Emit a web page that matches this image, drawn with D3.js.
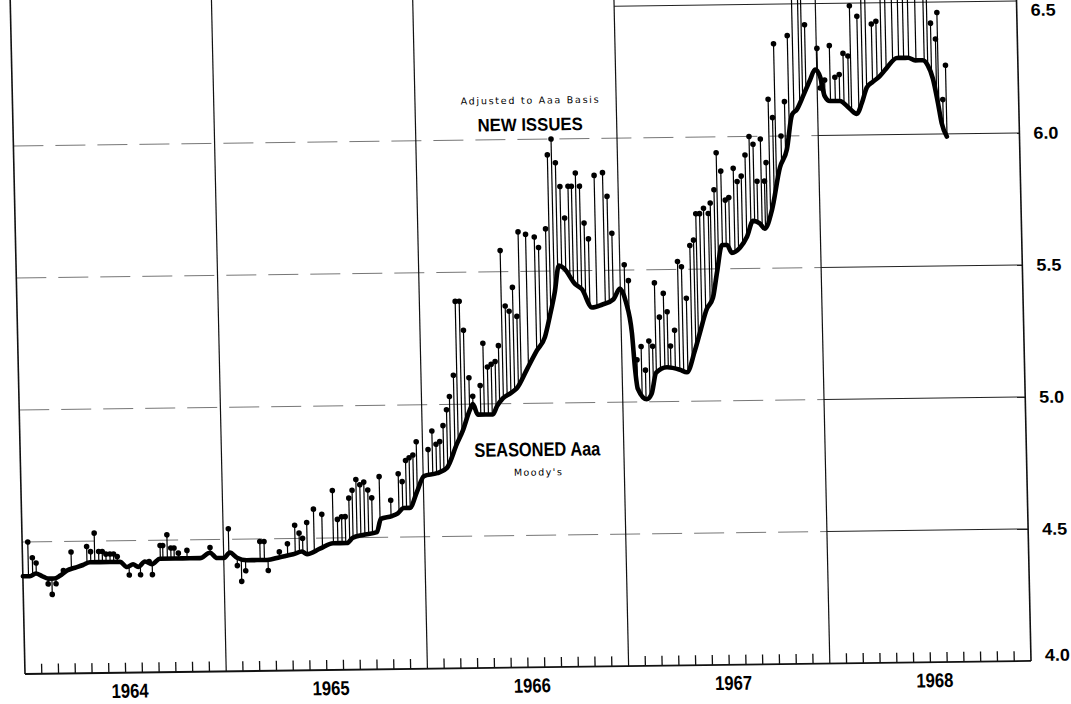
<!DOCTYPE html>
<html>
<head>
<meta charset="utf-8">
<script src="https://cdn.jsdelivr.net/npm/d3@7"></script>
<style>
  body { margin: 0; background: #fff; }
  svg { display: block; }
  .year-label { font-family: "Liberation Sans", Arial, sans-serif; font-weight: bold; font-size: 20px; }
  .value-label { font-family: "Liberation Sans", Arial, sans-serif; font-weight: bold; font-size: 17px; }
  .title { font-family: "Liberation Sans", Arial, sans-serif; font-weight: bold; }
  .note { font-family: "DejaVu Sans", sans-serif; font-size: 9.5px; }
</style>
</head>
<body>
<div id="chart"></div>
<script>
// Years on the time axis and the yield ticks on the right
const years = [1964, 1965, 1966, 1967, 1968];
const yieldTicks = [4.0, 4.5, 5.0, 5.5, 6.0, 6.5];
const gridLevels = [4.5, 5.0, 5.5, 6.0];

// Seasoned Aaa (Moody's), weekly-ish readings [decimal year, yield %]
const seasoned = [
  [1964.000, 4.37], [1964.035, 4.37], [1964.065, 4.38], [1964.095, 4.37], [1964.125, 4.36],
  [1964.155, 4.36], [1964.184, 4.37], [1964.220, 4.39], [1964.260, 4.40], [1964.300, 4.41],
  [1964.335, 4.42], [1964.434, 4.42], [1964.484, 4.42], [1964.519, 4.40], [1964.549, 4.41],
  [1964.574, 4.40], [1964.608, 4.42], [1964.643, 4.41], [1964.683, 4.43], [1964.758, 4.43],
  [1964.832, 4.43], [1964.882, 4.43], [1964.932, 4.45], [1964.967, 4.43], [1965.002, 4.43],
  [1965.031, 4.45], [1965.066, 4.43], [1965.115, 4.42], [1965.165, 4.42], [1965.215, 4.42],
  [1965.279, 4.43], [1965.345, 4.44], [1965.390, 4.45], [1965.414, 4.44], [1965.479, 4.46],
  [1965.545, 4.48], [1965.614, 4.48], [1965.644, 4.50], [1965.694, 4.51], [1965.764, 4.52],
  [1965.785, 4.57], [1965.840, 4.58], [1965.870, 4.59], [1965.900, 4.61], [1965.930, 4.61],
  [1965.967, 4.67], [1966.004, 4.73], [1966.069, 4.74], [1966.119, 4.76], [1966.171, 4.85],
  [1966.202, 4.90], [1966.240, 4.98], [1966.255, 5.00], [1966.278, 4.96], [1966.318, 4.96],
  [1966.353, 4.96], [1966.374, 4.99], [1966.404, 5.02], [1966.444, 5.04], [1966.477, 5.06],
  [1966.528, 5.13], [1966.579, 5.20], [1966.620, 5.25], [1966.647, 5.33], [1966.674, 5.42],
  [1966.697, 5.52], [1966.722, 5.51], [1966.775, 5.45], [1966.809, 5.43], [1966.857, 5.36],
  [1966.907, 5.37], [1966.965, 5.39], [1966.998, 5.43], [1967.026, 5.38], [1967.053, 5.26],
  [1967.064, 5.13], [1967.076, 5.05], [1967.119, 5.01], [1967.144, 5.03], [1967.169, 5.11],
  [1967.223, 5.13], [1967.287, 5.12], [1967.322, 5.11], [1967.363, 5.19], [1967.391, 5.26],
  [1967.428, 5.35], [1967.459, 5.39], [1967.483, 5.49], [1967.510, 5.59], [1967.535, 5.59],
  [1967.558, 5.56], [1967.600, 5.58], [1967.635, 5.62], [1967.667, 5.68], [1967.700, 5.67],
  [1967.725, 5.65], [1967.762, 5.72], [1967.806, 5.88], [1967.843, 5.95], [1967.872, 6.08],
  [1967.897, 6.10], [1967.929, 6.15], [1967.965, 6.21], [1967.992, 6.25], [1968.017, 6.22],
  [1968.036, 6.15], [1968.062, 6.13], [1968.111, 6.13], [1968.160, 6.10], [1968.194, 6.08],
  [1968.220, 6.12], [1968.247, 6.18], [1968.276, 6.20], [1968.310, 6.22], [1968.345, 6.25],
  [1968.400, 6.29], [1968.425, 6.29], [1968.455, 6.29], [1968.490, 6.28], [1968.528, 6.28],
  [1968.552, 6.26], [1968.576, 6.21], [1968.598, 6.12], [1968.615, 6.04], [1968.639, 5.99]
];

// New issues adjusted to Aaa basis [decimal year, yield %]
const newIssues = [
  [1964.028, 4.50], [1964.049, 4.44], [1964.067, 4.42], [1964.125, 4.34], [1964.144, 4.30],
  [1964.164, 4.34], [1964.202, 4.39], [1964.242, 4.46], [1964.320, 4.48], [1964.339, 4.46],
  [1964.359, 4.53], [1964.379, 4.46], [1964.397, 4.46], [1964.415, 4.45], [1964.435, 4.45],
  [1964.453, 4.45], [1964.471, 4.44], [1964.529, 4.37], [1964.585, 4.37], [1964.629, 4.42],
  [1964.644, 4.37], [1964.685, 4.48], [1964.698, 4.48], [1964.720, 4.52], [1964.738, 4.47],
  [1964.754, 4.47], [1964.775, 4.45], [1964.818, 4.46], [1964.933, 4.47], [1965.026, 4.54],
  [1965.067, 4.40], [1965.087, 4.34], [1965.108, 4.38], [1965.181, 4.49], [1965.202, 4.49],
  [1965.220, 4.38], [1965.277, 4.45], [1965.318, 4.48], [1965.356, 4.55], [1965.377, 4.52],
  [1965.394, 4.50], [1965.416, 4.56], [1965.451, 4.61], [1965.492, 4.59], [1965.547, 4.68],
  [1965.569, 4.57], [1965.590, 4.58], [1965.608, 4.58], [1965.628, 4.65], [1965.645, 4.68],
  [1965.665, 4.72], [1965.684, 4.70], [1965.704, 4.71], [1965.723, 4.68], [1965.742, 4.65],
  [1965.781, 4.73], [1965.836, 4.64], [1965.876, 4.74], [1965.895, 4.71], [1965.914, 4.79],
  [1965.932, 4.80], [1965.951, 4.81], [1965.969, 4.86], [1966.027, 4.83], [1966.048, 4.90],
  [1966.067, 4.85], [1966.086, 4.86], [1966.104, 4.92], [1966.123, 4.98], [1966.139, 5.03],
  [1966.161, 5.11], [1966.178, 5.39], [1966.198, 5.39], [1966.216, 5.28], [1966.238, 5.10],
  [1966.255, 5.03], [1966.293, 5.07], [1966.311, 5.23], [1966.331, 5.14], [1966.350, 5.15],
  [1966.370, 5.16], [1966.388, 5.22], [1966.407, 5.58], [1966.426, 5.37], [1966.445, 5.35],
  [1966.464, 5.44], [1966.483, 5.33], [1966.498, 5.65], [1966.535, 5.64], [1966.578, 5.63],
  [1966.598, 5.59], [1966.635, 5.66], [1966.652, 5.94], [1966.672, 6.00], [1966.691, 5.91],
  [1966.711, 5.82], [1966.731, 5.70], [1966.751, 5.82], [1966.768, 5.82], [1966.789, 5.87],
  [1966.808, 5.82], [1966.827, 5.68], [1966.847, 5.62], [1966.882, 5.86], [1966.924, 5.87],
  [1966.944, 5.78], [1966.964, 5.64], [1967.022, 5.52], [1967.041, 5.46], [1967.075, 5.16],
  [1967.097, 5.21], [1967.116, 5.12], [1967.136, 5.23], [1967.154, 5.21], [1967.170, 5.45],
  [1967.191, 5.32], [1967.213, 5.41], [1967.230, 5.34], [1967.243, 5.21], [1967.265, 5.27],
  [1967.287, 5.53], [1967.306, 5.51], [1967.327, 5.39], [1967.350, 5.59], [1967.369, 5.61],
  [1967.383, 5.71], [1967.402, 5.71], [1967.422, 5.73], [1967.445, 5.71], [1967.456, 5.75],
  [1967.476, 5.80], [1967.491, 5.94], [1967.512, 5.87], [1967.531, 5.76], [1967.549, 5.77],
  [1967.574, 5.88], [1967.592, 5.83], [1967.613, 5.85], [1967.634, 5.93], [1967.656, 6.00],
  [1967.675, 5.97], [1967.691, 5.83], [1967.712, 5.99], [1967.728, 5.83], [1967.738, 5.90],
  [1967.755, 6.14], [1967.775, 6.07], [1967.788, 6.35], [1967.815, 6.00], [1967.836, 6.13],
  [1967.857, 6.38], [1967.882, 6.62], [1967.912, 6.66], [1967.927, 6.60], [1967.944, 6.42],
  [1968.003, 6.33], [1968.015, 6.18], [1968.038, 6.21], [1968.065, 6.34], [1968.089, 6.22],
  [1968.111, 6.23], [1968.132, 6.31], [1968.156, 6.30], [1968.169, 6.49], [1968.205, 6.45],
  [1968.226, 6.60], [1968.246, 6.62], [1968.276, 6.42], [1968.299, 6.43], [1968.322, 6.65],
  [1968.345, 6.60], [1968.378, 6.68], [1968.408, 6.64], [1968.433, 6.70], [1968.458, 6.62],
  [1968.494, 6.66], [1968.535, 6.60], [1968.552, 6.63], [1968.570, 6.42], [1968.593, 6.36],
  [1968.603, 6.46], [1968.623, 6.13], [1968.640, 6.26]
];

const width = 1071;
const height = 704;

const svg = d3.select("#chart").append("svg")
  .attr("width", width)
  .attr("height", height);

// The original sheet is scanned slightly askew, so the plot sits in a skewed frame
const ox = 25, oy = 673;
const chart = svg.append("g")
  .attr("transform", `translate(${ox},${oy}) matrix(1,-0.013,0.022,1,0,0) translate(${-ox},${-oy})`);

const x = d3.scaleLinear().domain([1964, 1969]).range([25, 1031]);
const y = d3.scaleLinear().domain([4.0, 6.5]).range([674, 14]);

// Seasoned value at any date, used as the foot of each new-issue stem
const bisect = d3.bisector((d) => d[0]).left;
function seasonedAt(t) {
  let i = Math.max(1, Math.min(seasoned.length - 1, bisect(seasoned, t)));
  const a = seasoned[i - 1], b = seasoned[i];
  const k = Math.max(0, Math.min(1, (t - a[0]) / (b[0] - a[0])));
  return a[1] + (b[1] - a[1]) * k;
}

// Horizontal grid: broken rule through 1967, solid in 1968
gridLevels.forEach((v) => {
  chart.append("line")
    .attr("x1", x(1964)).attr("x2", x(1968))
    .attr("y1", y(v)).attr("y2", y(v))
    .attr("stroke", "#555")
    .attr("stroke-width", 0.8)
    .attr("stroke-dasharray", "30,12");
  chart.append("line")
    .attr("x1", x(1968)).attr("x2", x(1969))
    .attr("y1", y(v)).attr("y2", y(v))
    .attr("stroke", "#222")
    .attr("stroke-width", 1);
});

// top rule at 6.5 only shows over the last two years
chart.append("line")
  .attr("x1", x(1967)).attr("x2", x(1969))
  .attr("y1", y(6.5)).attr("y2", y(6.5))
  .attr("stroke", "#222")
  .attr("stroke-width", 1);

// Year boundaries and frame sides
d3.range(1964, 1970).forEach((yr) => {
  chart.append("line")
    .attr("x1", x(yr)).attr("x2", x(yr))
    .attr("y1", y(4.0)).attr("y2", -40)
    .attr("stroke", "#111")
    .attr("stroke-width", yr === 1964 || yr === 1969 ? 1.6 : 1.2);
});

// Baseline with monthly ticks
chart.append("line")
  .attr("x1", x(1964)).attr("x2", x(1969))
  .attr("y1", y(4.0)).attr("y2", y(4.0))
  .attr("stroke", "#111")
  .attr("stroke-width", 1.8);

const months = [];
years.forEach((yr) => d3.range(1, 12).forEach((m) => months.push(yr + m / 12)));
chart.selectAll(".month-tick")
  .data(months)
  .join("line")
  .attr("class", "month-tick")
  .attr("x1", (d) => x(d)).attr("x2", (d) => x(d))
  .attr("y1", y(4.0)).attr("y2", y(4.0) - 10)
  .attr("stroke", "#111")
  .attr("stroke-width", 1.3);

// Year labels under the axis (condensed bold)
chart.selectAll(".year-label")
  .data(years)
  .join("text")
  .attr("class", "year-label")
  .attr("x", (d) => x(d + 0.5) + 4)
  .attr("y", 699)
  .attr("text-anchor", "middle")
  .attr("textLength", 37)
  .attr("lengthAdjust", "spacingAndGlyphs")
  .text((d) => d);

// Yield labels on the right
chart.selectAll(".value-label")
  .data(yieldTicks)
  .join("text")
  .attr("class", "value-label")
  .attr("x", x(1969) + 14)
  .attr("y", (d) => Math.max(Math.min(y(d), y(4.0) - 6), y(6.5) + 9))
  .attr("dy", "0.36em")
  .attr("textLength", 25)
  .attr("lengthAdjust", "spacingAndGlyphs")
  .text((d) => d.toFixed(1));

// New issue stems and heads
chart.selectAll(".stem")
  .data(newIssues)
  .join("line")
  .attr("class", "stem")
  .attr("x1", (d) => x(d[0])).attr("x2", (d) => x(d[0]))
  .attr("y1", (d) => y(seasonedAt(d[0])))
  .attr("y2", (d) => y(d[1]))
  .attr("stroke", "#000")
  .attr("stroke-width", 1.2);

chart.selectAll(".head")
  .data(newIssues)
  .join("circle")
  .attr("class", "head")
  .attr("cx", (d) => x(d[0]))
  .attr("cy", (d) => y(d[1]))
  .attr("r", 2.8)
  .attr("fill", "#000");

// Seasoned Aaa heavy line
const line = d3.line()
  .x((d) => x(d[0]))
  .y((d) => y(d[1]))
  .curve(d3.curveMonotoneX);

chart.append("path")
  .datum(seasoned)
  .attr("d", line)
  .attr("fill", "none")
  .attr("stroke", "#000")
  .attr("stroke-width", 4.6)
  .attr("stroke-linejoin", "round")
  .attr("stroke-linecap", "round");

// Series captions
chart.append("text")
  .attr("class", "note")
  .attr("x", x(1966.57)).attr("y", y(6.15) + 4)
  .attr("text-anchor", "middle")
  .attr("textLength", 138)
  .attr("lengthAdjust", "spacing")
  .text("Adjusted to Aaa Basis");

chart.append("text")
  .attr("class", "title")
  .attr("x", x(1966.57)).attr("y", y(6.055) + 6)
  .attr("text-anchor", "middle")
  .style("font-size", "18px")
  .attr("textLength", 105)
  .attr("lengthAdjust", "spacingAndGlyphs")
  .text("NEW ISSUES");

chart.append("text")
  .attr("class", "title")
  .attr("x", x(1966.57)).attr("y", y(4.80))
  .attr("text-anchor", "middle")
  .style("font-size", "19.5px")
  .attr("textLength", 126)
  .attr("lengthAdjust", "spacingAndGlyphs")
  .text("SEASONED Aaa");

chart.append("text")
  .attr("class", "note")
  .attr("x", x(1966.57)).attr("y", y(4.73) + 1)
  .attr("text-anchor", "middle")
  .attr("textLength", 48)
  .attr("lengthAdjust", "spacing")
  .text("Moody's");
</script>
</body>
</html>
